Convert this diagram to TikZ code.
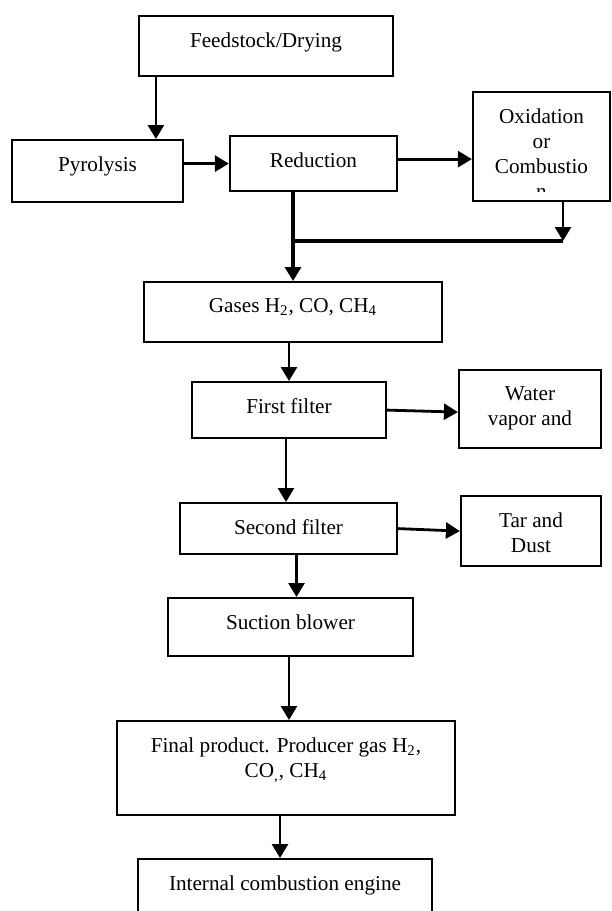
\documentclass[tikz,border=0pt]{standalone}
\usepackage{fontspec}
\setmainfont{Liberation Serif}
\usetikzlibrary{arrows.meta,positioning}
\tikzset{
  stage/.style={draw, line width=1.1pt, inner sep=0pt, anchor=north},
  stagetext/.style={inner sep=0pt, align=center, font=\fontsize{10.6pt}{12.5pt}\selectfont},
  flow/.style={line width=1.4pt, -{Triangle[length=7pt,width=8pt]}},
  joinline/.style={line width=2pt},
}
\newcommand{\gap}{8.6pt}

\begin{document}
\begin{tikzpicture}[x=0.5pt,y=-0.5pt]
    \useasboundingbox (0,0) rectangle (611,911);
    % --- --- --- Gasifier zones
    \node[stage, minimum width=127pt, minimum height=30pt] (feed) at (266,15) {};
    \node[stagetext, below=\gap of feed.north] (feed-t) {Feedstock/Drying};
    \node[stage, minimum width=85.5pt, minimum height=31pt] (pyro) at (97.5,139) {};
    \node[stagetext, below=\gap of pyro.north] (pyro-t) {Pyrolysis};
    \node[stage, minimum width=83.5pt, minimum height=27.5pt] (red) at (313.5,135) {};
    \node[stagetext, below=\gap of red.north] (red-t) {Reduction};
    \node[stage, minimum width=68.5pt, minimum height=54.5pt] (oxi) at (541.5,91) {};
    \begin{scope}
        \clip (oxi.north west) rectangle ([yshift=5.5pt]oxi.south east);
        \node[stagetext, below=\gap of oxi.north] (oxi-t) {Oxidation\\or\\Combustio\\n};
    \end{scope}
    % --- --- --- Gas cleaning
    \node[stage, minimum width=149pt, minimum height=30pt] (gas) at (293,281) {};
    \node[stagetext, below=\gap of gas.north] (gas-t) {Gases H\textsubscript{2}, CO, CH\textsubscript{4}};
    \node[stage, minimum width=97pt, minimum height=28pt] (ff) at (289,381) {};
    \node[stagetext, below=\gap of ff.north] (ff-t) {First filter};
    \node[stage, minimum width=71pt, minimum height=39pt] (water) at (530,369) {};
    \node[stagetext, below=\gap of water.north] (water-t) {Water\\vapor and};
    \node[stage, minimum width=108.5pt, minimum height=25.5pt] (sf) at (288.5,502) {};
    \node[stagetext, below=\gap of sf.north] (sf-t) {Second filter};
    \node[stage, minimum width=70pt, minimum height=35pt] (tar) at (531,495) {};
    \node[stagetext, below=\gap of tar.north] (tar-t) {Tar and\\Dust};
    % --- --- --- Use of the gas
    \node[stage, minimum width=122.5pt, minimum height=29pt] (suc) at (290.5,597) {};
    \node[stagetext, below=\gap of suc.north] (suc-t) {Suction blower};
    \node[stage, minimum width=169pt, minimum height=47pt] (fin) at (286,720) {};
    \node[stagetext, below=\gap of fin.north] (fin-t) {Final product. Producer gas H\textsubscript{2},\\CO\textsubscript{,}, CH\textsubscript{4}};
    \node[stage, minimum width=147pt, minimum height=31pt] (ice) at (285,858) {};
    \node[stagetext, below=\gap of ice.north] (ice-t) {Internal combustion engine};
    % === === === Arrows
    \draw[flow] ([xshift=9pt]feed.south west) -- ([xshift=9pt]feed.south west |- pyro.north);
    \draw[flow] (pyro.east |- red.west) -- (red.west);
    \draw[flow] ([yshift=2.25pt]red.east) -- ([yshift=2.25pt]red.east -| oxi.west);
    % === === === Joining the two gas streams
    \coordinate (join) at (293,241);
    \coordinate (oxidrop) at ([xshift=10.75pt]oxi.south);
    \draw[line width=1.7pt] (red.south -| gas.north) -- (join);
    \draw[flow] (oxidrop) -- (oxidrop |- join);
    \draw[joinline] (join) -- (oxidrop |- join);
    \draw[flow, line width=1.7pt] (join) -- (gas.north);
    % === === === Down the line
    \draw[flow] (ff.north |- gas.south) -- (ff.north);
    \draw[flow] (ff.east) -- ([yshift=-1.5pt]water.west);
    \draw[flow] ([xshift=-1.5pt]ff.south) -- ([xshift=-1.5pt]ff.south |- sf.north);
    \draw[flow] (sf.east) -- (tar.west);
    \draw[flow] ([xshift=4pt]sf.south) -- ([xshift=4pt]sf.south |- suc.north);
    \draw[flow] ([xshift=-0.75pt]suc.south) -- ([xshift=-0.75pt]suc.south |- fin.north);
    \draw[flow] ([xshift=-3pt]fin.south) -- ([xshift=-3pt]fin.south |- ice.north);
\end{tikzpicture}
\end{document}
